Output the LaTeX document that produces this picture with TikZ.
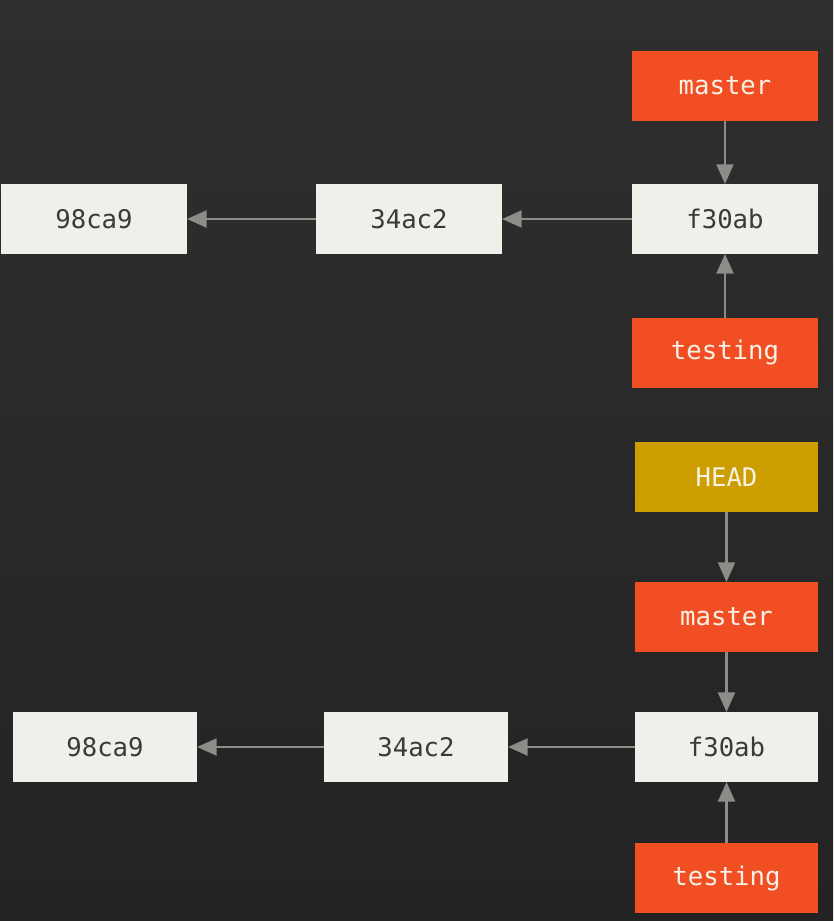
\documentclass[tikz,border=0pt]{standalone}
\usepackage{fontspec}
\setmonofont{DejaVu Sans Mono}
\usetikzlibrary{arrows.meta,positioning}
\definecolor{bgtop}{HTML}{2F2F2F}
\definecolor{bgbot}{HTML}{232323}
\definecolor{commitfill}{HTML}{F0EFEA}
\definecolor{committext}{HTML}{3A3A3A}
\definecolor{branchfill}{HTML}{F14E23}
\definecolor{branchtext}{HTML}{F7F1E6}
\definecolor{headfill}{HTML}{CC9E00}
\definecolor{linkgray}{HTML}{8C8C88}
\tikzstyle{commit} = [fill=commitfill, text=committext, minimum width=1.86cm, minimum height=0.70cm, inner sep=0pt, outer sep=0pt, font=\ttfamily\fontsize{7.3}{8}\selectfont]
\tikzstyle{branch} = [commit, fill=branchfill, text=branchtext]
\tikzstyle{head} = [branch, fill=headfill]
\tikzstyle{link} = [draw=linkgray, line width=0.75pt, -{Triangle[length=5.6pt,width=4.8pt]}]

\begin{document}
\begin{tikzpicture}[node distance=0.63cm and 1.29cm]
    \shade[top color=bgtop, bottom color=bgbot] (0,0) rectangle (8.33,-9.21);
    \useasboundingbox (0,0) rectangle (8.33,-9.21);

    % before checkout
    \node[commit] (f1) at (7.25,-2.19) {f30ab};
    \node[commit, left=1.30cm of f1] (c1) {34ac2};
    \node[commit, left=of c1] (a1) {98ca9};
    \node[branch, above=of f1] (m1) {master};
    \node[branch, below=0.64cm of f1] (t1) {testing};

    \draw[link] (f1) -- (c1);
    \draw[link] (c1) -- (a1);
    \draw[link] (m1) -- (f1);
    \draw[link] (t1) -- (f1);

    % after
    \node[commit, minimum width=1.83cm] (f2) at (7.265,-7.47) {f30ab};
    \node[commit, minimum width=1.84cm, left=1.27cm of f2] (c2) {34ac2};
    \node[commit, minimum width=1.84cm, left=1.27cm of c2] (a2) {98ca9};
    \node[branch, minimum width=1.83cm, above=0.60cm of f2] (m2) {master};
    \node[head, minimum width=1.83cm, above=0.70cm of m2] (h2) {HEAD};
    \node[branch, minimum width=1.83cm, below=0.61cm of f2] (t2) {testing};

    \draw[link] (f2) -- (c2);
    \draw[link] (c2) -- (a2);
    \draw[link] (h2) -- (m2);
    \draw[link] (m2) -- (f2);
    \draw[link] (t2) -- (f2);
\end{tikzpicture}
\end{document}
